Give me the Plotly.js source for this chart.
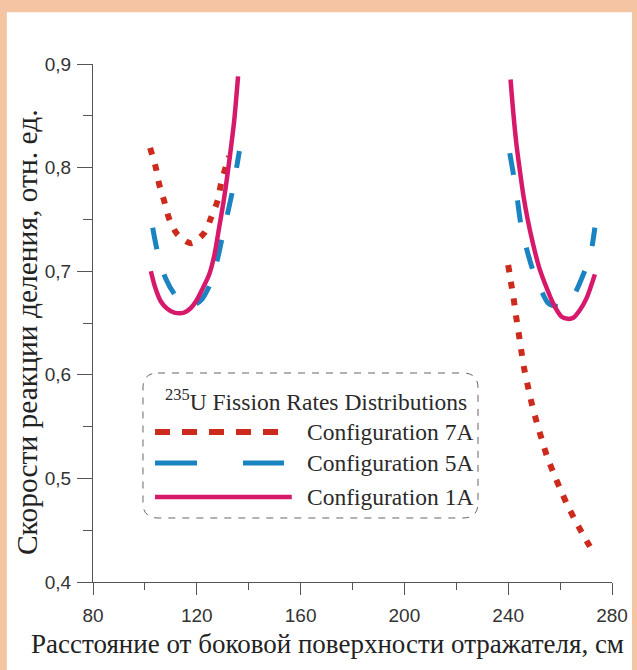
<!DOCTYPE html>
<html>
<head>
<meta charset="utf-8">
<script src="https://cdn.plot.ly/plotly-3.0.1.min.js"></script>
<style>html,body{margin:0;padding:0;background:#fff;}#chart{width:637px;height:670px;}</style>
</head>
<body>
<div id="chart"></div>
<script>
// ---- data ----
const x7A_left  = [102, 104.2, 105.5, 107.4, 109.3, 112.4, 117.7, 122.9, 125.4, 128, 129.3, 131.2, 132.5];
const y7A_left  = [0.819, 0.800, 0.784, 0.768, 0.751, 0.736, 0.727, 0.737, 0.751, 0.768, 0.784, 0.801, 0.811];
const x7A_right = [240, 241, 242, 243, 244, 245, 246, 247.5, 249, 251, 253, 255, 257.5, 260, 262.5, 265.5, 269, 272.5];
const y7A_right = [0.706, 0.690, 0.675, 0.657, 0.641, 0.624, 0.608, 0.590, 0.573, 0.554, 0.537, 0.521, 0.505, 0.490, 0.476, 0.461, 0.445, 0.430];

const x5A_left  = [103, 105, 108, 112, 116.5, 120, 122, 125.4, 128, 130, 133.7, 136.4];
const y5A_left  = [0.742, 0.717, 0.693, 0.676, 0.668, 0.669, 0.673, 0.689, 0.712, 0.735, 0.777, 0.816];
const x5A_right = [240.6, 243, 245.1, 247.7, 250.3, 253, 255.5, 259.4, 263.3, 266, 268.3, 271.5, 273.4];
const y5A_right = [0.814, 0.779, 0.742, 0.716, 0.695, 0.680, 0.669, 0.666, 0.669, 0.680, 0.693, 0.714, 0.742];

const x1A_left  = [102.3, 104, 106.1, 108.5, 111.3, 115.1, 117.5, 119.7, 122, 124.8, 126.8, 128.6, 130.3, 131.8, 133.2, 134.4, 135.9];
const y1A_left  = [0.700, 0.684, 0.671, 0.664, 0.660, 0.660, 0.664, 0.671, 0.682, 0.697, 0.716, 0.742, 0.767, 0.793, 0.820, 0.845, 0.888];
const x1A_right = [240.9, 242, 243.2, 244.5, 245.8, 247.5, 249.6, 252, 254.8, 257.5, 260.6, 263, 265.1, 267.5, 270.2, 273.4];
const y1A_right = [0.885, 0.852, 0.822, 0.797, 0.774, 0.750, 0.726, 0.703, 0.684, 0.668, 0.656, 0.654, 0.655, 0.662, 0.674, 0.697];

const seriesNames = ["Configuration 7A", "Configuration 5A", "Configuration 1A"];
const legendTitle = "<sup>235</sup>U Fission Rates Distributions";
const xTitle = "Расстояние от боковой поверхности отражателя, см";
const yTitle = "Скорости реакции деления, отн. ед.";

// ---- styles ----
const C7 = "#cc2a1c", C5 = "#1a84c2", C1 = "#d6196a";
const st7 = {color: C7, width: 6, dash: "7px,10px", shape: "spline", smoothing: 0.8};
const st5 = {color: C5, width: 5, dash: "22px,26px", shape: "spline", smoothing: 0.8};
const st1 = {color: C1, width: 4.5, shape: "spline", smoothing: 0.8};

function tr(x, y, line, name){
  return {x: x, y: y, type: "scatter", mode: "lines", line: line, name: name, showlegend: false, hoverinfo: "skip"};
}
const data = [
  tr(x7A_left, y7A_left, st7, seriesNames[0]),
  tr(x7A_right, y7A_right, st7, seriesNames[0]),
  tr(x5A_left, y5A_left, st5, seriesNames[1]),
  tr(x5A_right, y5A_right, st5, seriesNames[1]),
  tr(x1A_left, y1A_left, st1, seriesNames[2]),
  tr(x1A_right, y1A_right, st1, seriesNames[2])
];

// ---- legend box (paper coords) ----
const bx0 = 0.0963, bx1 = 0.7418, by0 = 0.1236, by1 = 0.4035, r = 0.029;
const boxPath = `M${bx0+r},${by1} L${bx1-r},${by1} Q${bx1},${by1} ${bx1},${by1-r} L${bx1},${by0+r} Q${bx1},${by0} ${bx1-r},${by0} L${bx0+r},${by0} Q${bx0},${by0} ${bx0},${by0+r} L${bx0},${by1-r} Q${bx0},${by1} ${bx0+r},${by1} Z`;

const legY = [0.2896, 0.2297, 0.164];
const legLines = [
  {color: C7, width: 6, dash: "15px,12px"},
  {color: C5, width: 5, dash: "42px,46px"},
  {color: C1, width: 4.5, dash: "solid"}
];
const shapes = [
  {type: "rect", xref: "paper", yref: "paper", x0: -0.166, x1: 1.0385, y0: -0.2, y1: 1.1,
   fillcolor: "#ffffff", line: {width: 0}, layer: "below"},
  {type: "path", xref: "paper", yref: "paper", path: boxPath, line: {color: "#666", width: 1, dash: "7px,7px"}}
];
legLines.forEach((ln, i) => {
  shapes.push({type: "line", xref: "paper", yref: "paper", x0: 0.1195, x1: i === 2 ? 0.383 : 0.368,
    y0: legY[i], y1: legY[i], line: ln});
});

const legFont = {family: "Liberation Serif, Times New Roman, serif", size: 23.5, color: "#2a2a2a"};
const xTitleFont = {family: "Liberation Serif, Times New Roman, serif", size: 27, color: "#222"};
const yTitleFont = {family: "Liberation Serif, Times New Roman, serif", size: 29.5, color: "#222"};
const annotations = [
  {xref: "paper", yref: "paper", x: 0.1349, y: 0.3514, xanchor: "left", yanchor: "middle",
   text: legendTitle, showarrow: false, font: legFont},
  {xref: "paper", yref: "paper", x: 0.451, y: -0.119, xanchor: "center", yanchor: "middle",
   text: xTitle, showarrow: false, font: xTitleFont},
  {xref: "paper", yref: "paper", x: -0.127, y: 0.4826, xanchor: "center", yanchor: "middle",
   text: yTitle, textangle: -90, showarrow: false, font: yTitleFont}
];
seriesNames.forEach((n, i) => {
  annotations.push({xref: "paper", yref: "paper", x: 0.4085, y: legY[i], xanchor: "left", yanchor: "middle",
    text: n, showarrow: false, font: legFont});
});

const tickFont = {family: "Liberation Sans, Arial, sans-serif", size: 19, color: "#333"};

const layout = {
  width: 637, height: 670,
  margin: {l: 93, r: 25, t: 64, b: 88, pad: 0},
  paper_bgcolor: "#f5c4a2",
  plot_bgcolor: "#ffffff",
  separators: ", ",
  showlegend: false,
  xaxis: {
    range: [80, 280], dtick: 40, tick0: 80,
    showgrid: false, zeroline: false, showline: true, linecolor: "#555", linewidth: 1,
    ticks: "outside", ticklen: 12, tickcolor: "#555", tickwidth: 1,
    minor: {dtick: 20, tick0: 80, ticks: "outside", ticklen: 7, tickcolor: "#555", showgrid: false},
    tickfont: tickFont, ticklabelstandoff: 4
  },
  yaxis: {
    range: [0.4, 0.9], dtick: 0.1, tick0: 0.4, tickformat: ".1f",
    showgrid: false, zeroline: false, showline: true, linecolor: "#555", linewidth: 1,
    ticks: "outside", ticklen: 15, tickcolor: "#555", tickwidth: 1,
    minor: {dtick: 0.05, tick0: 0.4, ticks: "outside", ticklen: 9, tickcolor: "#555", showgrid: false},
    tickfont: tickFont, ticklabelstandoff: 2
  },
  shapes: shapes,
  annotations: annotations
};

Plotly.newPlot("chart", data, layout, {displayModeBar: false, staticPlot: true});
</script>
</body>
</html>
